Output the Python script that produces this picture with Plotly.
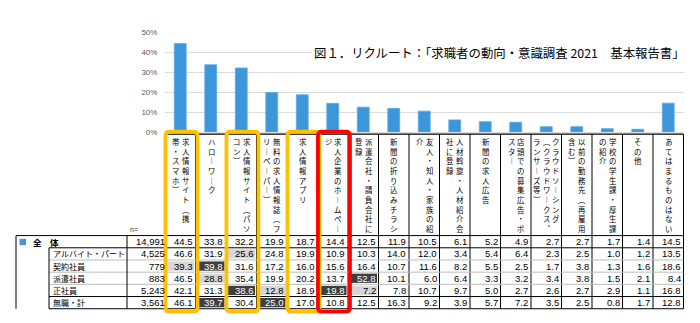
import plotly.graph_objects as go

W, H = 700, 323

categories = [
    "求人情報サイト（携帯・スマホ）", "ハローワーク", "求人情報サイト（パソコン）",
    "無料の求人情報誌（フリーペーパー）", "求人情報アプリ", "求人企業のホームページ",
    "派遣会社・請負会社に登録", "新聞の折り込みチラシ", "友人・知人・家族の紹介",
    "人材斡旋・人材紹介会社に登録", "新聞の求人広告", "店頭での募集広告・ポスター",
    "クラウドソーシング（クラウドワークス、ランサーズ等）", "以前の勤務先（再雇用含む）",
    "学校の学生課・厚生課の紹介", "その他", "あてはまるものはない",
]
# vertical (tategaki) label columns, right column first
label_columns = [
    ["求人情報サイト（携", "帯・スマホ）"],
    ["ハローワーク"],
    ["求人情報サイト（パソ", "コン）"],
    ["無料の求人情報誌（フ", "リーペーパー）"],
    ["求人情報アプリ"],
    ["求人企業のホームペー", "ジ"],
    ["派遣会社・請負会社に", "登録"],
    ["新聞の折り込みチラシ"],
    ["友人・知人・家族の紹", "介"],
    ["人材斡旋・人材紹介会", "社に登録"],
    ["新聞の求人広告"],
    ["店頭での募集広告・ポ", "スター"],
    ["クラウドソーシング", "（クラウドワークス、", "ランサーズ等）"],
    ["以前の勤務先（再雇用", "含む）"],
    ["学校の学生課・厚生課", "の紹介"],
    ["その他"],
    ["あてはまるものはない"],
]

row_names = ["全　体", "アルバイト・パート", "契約社員", "派遣社員", "正社員", "無職・計"]
n_values = ["14,991", "4,525", "779", "883", "5,243", "3,561"]

v_all = [44.5, 33.8, 32.2, 19.9, 18.7, 14.4, 12.5, 11.9, 10.5, 6.1, 5.2, 4.9, 2.7, 2.7, 1.7, 1.4, 14.5]
v_part = [46.6, 31.9, 25.6, 24.8, 19.9, 10.9, 10.3, 14.0, 12.0, 3.4, 5.4, 6.4, 2.3, 2.5, 1.0, 1.2, 13.5]
v_contract = [39.3, 39.8, 31.6, 17.2, 16.0, 15.6, 16.4, 10.7, 11.6, 8.2, 5.5, 2.5, 1.7, 3.8, 1.3, 1.6, 18.6]
v_dispatch = [46.5, 28.8, 35.4, 19.9, 20.2, 13.7, 52.8, 10.1, 6.0, 6.4, 3.3, 3.2, 3.4, 3.8, 1.5, 2.1, 8.4]
v_regular = [42.1, 31.3, 38.6, 12.8, 18.9, 19.8, 7.2, 7.8, 10.7, 9.7, 5.0, 2.7, 2.6, 2.7, 2.9, 1.1, 16.8]
v_jobless = [46.1, 39.7, 30.4, 25.0, 17.0, 10.8, 12.5, 16.3, 9.2, 3.9, 5.7, 7.2, 3.5, 2.5, 0.8, 1.7, 12.8]
table_rows = [v_all, v_part, v_contract, v_dispatch, v_regular, v_jobless]

# (row, column) cells with shading
light_cells = [(1, 2), (2, 0), (3, 1), (4, 3), (4, 6)]
dark_cells = [(2, 1), (3, 6), (4, 2), (4, 5), (5, 1), (5, 3)]

orange_cols = [0, 2, 4]
red_cols = [5]

title_text = "図１．リクルート：「求職者の動向・意識調査 2021　基本報告書」"

# ---------------- styles / layout constants ----------------
JP = "Noto Sans CJK JP"
NUM = "Liberation Sans Narrow, Liberation Sans, Arial"
BAR = "#3C97DA"
PLOT_L, PLOT_R = 165.0, 683.5
ncat = len(categories)
COL_W = (PLOT_R - PLOT_L) / ncat

row_edges = [238.5, 251, 263.5, 276, 288.5, 301, 313.5]
row_mid = [(row_edges[i] + row_edges[i + 1]) / 2 for i in range(6)]


def X(p):
    return p / W


def Y(p):
    return 1 - p / H


def dom(k):  # column centre k in x-domain units
    return (k + 0.5) / ncat


xs = list(range(ncat))

fig = go.Figure()
fig.add_trace(go.Bar(x=xs, y=v_all, width=0.39,
                     marker=dict(color=BAR, line=dict(color="#5AAAE3", width=0.8)),
                     hoverinfo="skip"))

shapes = []
annotations = []


def hline(y, x0, x1, color="black", width=1):
    shapes.append(dict(type="line", xref="paper", yref="paper", x0=X(x0), x1=X(x1), y0=Y(y), y1=Y(y),
                       line=dict(color=color, width=width), layer="below"))


def vline_col(k, y0, y1):
    shapes.append(dict(type="line", xref="x domain", yref="paper", x0=dom(k - 0.5), x1=dom(k - 0.5),
                       y0=Y(y0), y1=Y(y1), line=dict(color="black", width=1), layer="below"))


def vline(x, y0, y1):
    shapes.append(dict(type="line", xref="paper", yref="paper", x0=X(x), x1=X(x), y0=Y(y0), y1=Y(y1),
                       line=dict(color="black", width=1), layer="below"))


# cell shading
pad = 1.5 / COL_W / ncat
for cells, fill in ((light_cells, "#D6D6D6"), (dark_cells, "#3F3F3F")):
    for r, c in cells:
        shapes.append(dict(type="rect", xref="x domain", yref="paper",
                           x0=dom(c - 0.5) + pad, x1=dom(c + 0.5) - pad,
                           y0=Y(row_edges[r] + 1.5), y1=Y(row_edges[r + 1] - 1.5),
                           fillcolor=fill, line=dict(width=0), layer="below"))

# table grid
hline(134.5, PLOT_L, PLOT_R, width=1.3)
for k in range(ncat + 1):
    vline_col(k, 134.5, 313.5)
hline(row_edges[0], 16, PLOT_R)
hline(row_edges[1], 49, PLOT_R)
for i in (2, 3, 4):
    hline(row_edges[i], 49, PLOT_R, color="#BDBDBD")
hline(row_edges[5], 49, PLOT_R)
hline(row_edges[6], 49, PLOT_R)
vline(16, row_edges[0], row_edges[6])
vline(49, row_edges[1], row_edges[6])
vline(127, row_edges[0], row_edges[6])

# blue square for 全体
shapes.append(dict(type="rect", xref="paper", yref="paper", x0=X(19.5), x1=X(26), y0=Y(248.3), y1=Y(241.8),
                   fillcolor="#4A92DC", line=dict(width=0), layer="below"))


# highlight boxes (rounded)
def rounded_box(c, color):
    cx = dom(c) + 1.2 / COL_W / ncat
    hw = 16.0 / COL_W / ncat
    x0, x1 = cx - hw, cx + hw
    y0, y1 = Y(316.5), Y(132.0)
    rx, ry = 4.0 / COL_W / ncat, 4.0 / H
    path = (f"M {x0 + rx},{y0} L {x1 - rx},{y0} Q {x1},{y0} {x1},{y0 + ry} "
            f"L {x1},{y1 - ry} Q {x1},{y1} {x1 - rx},{y1} L {x0 + rx},{y1} "
            f"Q {x0},{y1} {x0},{y1 - ry} L {x0},{y0 + ry} Q {x0},{y0} {x0 + rx},{y0} Z")
    shapes.append(dict(type="path", xref="x domain", yref="paper", path=path,
                       line=dict(color=color, width=3.8), layer="above"))


for c in orange_cols:
    rounded_box(c, "#FFC000")
for c in red_cols:
    rounded_box(c, "#FF0000")

# vertical category labels
VERT = {"ー": "︱", "（": "︵", "）": "︶", "、": "︑"}
for k, cols in enumerate(label_columns):
    n = len(cols)
    for j, line in enumerate(cols):
        off = ((n - 1) / 2.0 - j) * 9.6 + 0.5
        txt = "<br>".join(VERT.get(ch, ch) for ch in line)
        annotations.append(dict(xref="x", yref="paper", x=k, y=Y(135.5), xshift=off,
                                text=txt, showarrow=False, align="center",
                                xanchor="center", yanchor="top", borderpad=0,
                                font=dict(family=JP, size=7.45, color="black")))

# table numbers
for r, vals in enumerate(table_rows):
    for c, v in enumerate(vals):
        col = "white" if (r, c) in dark_cells else "black"
        annotations.append(dict(xref="x", yref="paper", x=c + 0.5, y=Y(row_mid[r]), xshift=-2,
                                text=f"{v:.1f}", showarrow=False, xanchor="right", yanchor="middle",
                                borderpad=0, font=dict(family=NUM, size=9.5, color=col)))
    annotations.append(dict(xref="paper", yref="paper", x=X(166), y=Y(row_mid[r]),
                            text=n_values[r], showarrow=False, xanchor="right", yanchor="middle",
                            borderpad=0, font=dict(family=NUM, size=9.5, color="black")))

# row labels
annotations.append(dict(xref="paper", yref="paper", x=X(31), y=Y(row_mid[0]), text="<b>" + row_names[0] + "</b>",
                        showarrow=False, xanchor="left", yanchor="middle",
                        font=dict(family=JP, size=8.5, color="black")))
for r in range(1, 6):
    annotations.append(dict(xref="paper", yref="paper", x=X(50.5), y=Y(row_mid[r]), text=row_names[r],
                            showarrow=False, xanchor="left", yanchor="middle",
                            font=dict(family=JP, size=8, color="black")))
annotations.append(dict(xref="paper", yref="paper", x=X(128), y=Y(232.5), text="n=", showarrow=False,
                        xanchor="left", yanchor="middle", font=dict(family=NUM, size=7, color="#333333")))

# title with underline
annotations.append(dict(xref="paper", yref="paper", x=X(312), y=Y(51.5), text=title_text, showarrow=False,
                        xanchor="left", yanchor="middle", bgcolor="white", borderpad=1,
                        font=dict(family=JP, size=12.4, color="black")))
shapes.append(dict(type="line", xref="paper", yref="paper", x0=X(313), x1=X(686), y0=Y(59.5), y1=Y(59.5),
                   line=dict(color="black", width=1), layer="above"))

y0_px, per10 = 132.3, 20.4
top_val = 50.5
top_px = y0_px - top_val / 10 * per10

fig.update_layout(
    width=W, height=H, margin=dict(l=0, r=0, t=0, b=0),
    paper_bgcolor="white", plot_bgcolor="white", showlegend=False,
    xaxis=dict(domain=[X(PLOT_L), X(PLOT_R)], range=[-0.5, ncat - 0.5],
               showticklabels=False, showgrid=False, zeroline=False, showline=False, ticks=""),
    yaxis=dict(domain=[Y(y0_px), Y(top_px)], range=[0, top_val],
               dtick=10, ticksuffix="%", showgrid=True, gridcolor="#DCDCDC", gridwidth=1,
               zeroline=True, zerolinecolor="#DCDCDC", zerolinewidth=1, showline=False,
               ticks="outside", ticklen=5, tickcolor="rgba(0,0,0,0)",
               tickfont=dict(family="Liberation Sans", size=8, color="#595959")),
    shapes=shapes, annotations=annotations,
)

fig.write_html("out.html")
